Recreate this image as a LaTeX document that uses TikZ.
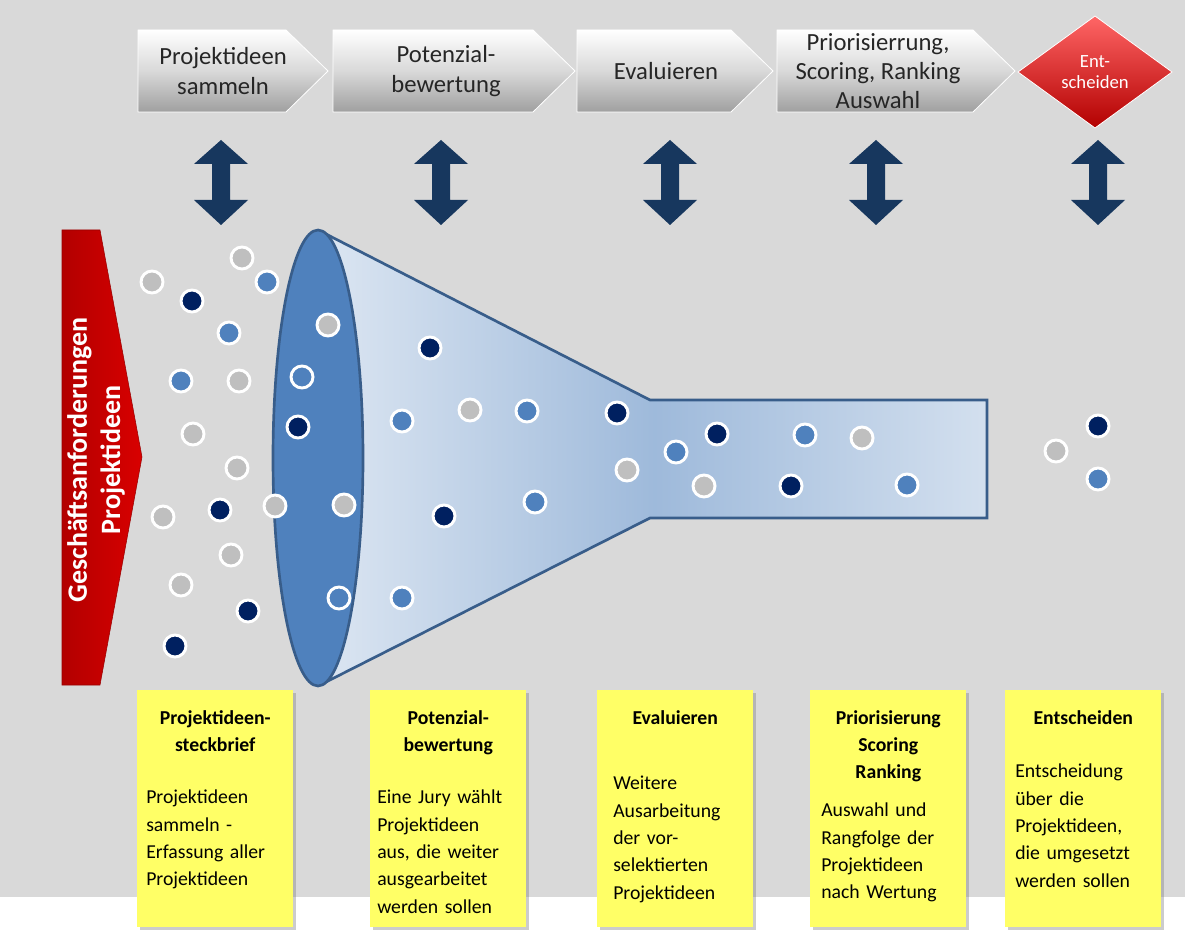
\documentclass[tikz,border=0pt]{standalone}
\usepackage{fontspec}
\setmainfont{Carlito}
\usetikzlibrary{shapes.geometric,shadows}
\definecolor{bg}{HTML}{D9D9D9}
\definecolor{navy}{HTML}{002060}
\definecolor{dnavy}{HTML}{17375E}
\definecolor{mblue}{HTML}{4F81BD}
\definecolor{cgray}{HTML}{BFBFBF}
\definecolor{note}{HTML}{FFFF66}
\definecolor{edge}{HTML}{385D8A}
\begin{document}
\begin{tikzpicture}[x=0.75pt,y=-0.75pt,
 chev/.style={draw=white,line width=0.6pt,top color=white,bottom color=gray!75,middle color=gray!30},
 ctext/.style={font=\fontsize{18.5}{22}\selectfont,align=center,text=black!85},
 dot/.style={circle,draw=white,line width=2.2pt,minimum size=22pt*0.75,inner sep=0pt},
 g/.style={dot,fill=cgray}, n/.style={dot,fill=navy}, b/.style={dot,fill=mblue},
 sticky/.style={draw=none,fill=note,drop shadow={shadow xshift=2pt,shadow yshift=-2pt,opacity=0.4}},
 ntext/.style={font=\fontsize{14.8}{20.5}\selectfont,align=left,anchor=north west,inner sep=0pt,text width=150*0.75pt},
 nhead/.style={ntext,font=\bfseries\fontsize{14.8}{20.5}\selectfont,align=center},
 dbl/.style={fill=dnavy}]
\useasboundingbox (0,0) rectangle (1185,941);
\fill[bg] (0,0) rectangle (1185,897);
% chevrons
\foreach \a/\bb in {138/328,333/575,577/773,777/1015}{
 \path[chev] (\a,30) -- (\bb-42,30) -- (\bb,71) -- (\bb-42,112) -- (\a,112) -- cycle;
}
\node[ctext] (t1) at (223,71) {Projektideen\\sammeln};
\node[ctext] (t2) at (446,71) {Potenzial-\\bewertung};
\node[ctext] (t3) at (666,71) {Evaluieren};
\node[ctext] (t4) at (878,71) {Priorisierrung,\\Scoring, Ranking\\Auswahl};
\path[draw=white,line width=0.6pt,top color=red!60,bottom color=red!70!black] (1018,72)--(1095,16)--(1172,72)--(1095,128)--cycle;
\node[font=\fontsize{14}{16}\selectfont,text=white,align=center] (t5) at (1095,72) {Ent-\\scheiden};
% double arrows
\foreach \x in {221,441,670,876,1098}{
 \fill[dbl] (\x,140) -- (\x+27,164) -- (\x+9,164) -- (\x+9,200) -- (\x+27,200) -- (\x,225) -- (\x-27,200) -- (\x-9,200) -- (\x-9,164) -- (\x-27,164) -- cycle;
}
% red arrow
\path[left color=red!70!black,right color=red!85!black,draw=red!60!black] (62,230) -- (100,230) -- (142,457) -- (100,685) -- (62,685) -- cycle;
\node[rotate=90,text=white,font=\bfseries\fontsize{21}{25}\selectfont,align=center] (ga) at (96,460) {Geschäftsanforderungen\\Projektideen};
% funnel
\path[left color=white!80!mblue,right color=mblue!25,middle color=mblue!55,draw=edge,line width=2pt] (322,232) -- (650,400) -- (987,400) -- (987,518) -- (650,518) -- (322,684) -- cycle;
\path[fill=mblue,draw=edge,line width=2pt] (318,458) ellipse [x radius=45,y radius=228];
% dots
\foreach \x/\y in {152/282,242/258,239/381,193/434,237/468,163/517,275/506,231/555,181/585,328/325,344/505,470/410,627/470,704/486,862/438,1056/451}{\node[g] at (\x,\y) {};}
\foreach \x/\y in {192/301,220/510,248/611,175/646,298/427,430/348,444/516,617/413,717/434,791/486,1098/426}{\node[n] at (\x,\y) {};}
\foreach \x/\y in {267/282,229/333,181/381,302/377,339/598,402/421,527/411,535/502,402/598,676/452,805/435,907/485,1098/479}{\node[b] at (\x,\y) {};}
% notes
\foreach \a in {137,370,597,810,1005}{\path[sticky] (\a,690) rectangle (\a+156,927);}
\node[nhead] (h1) at (140,710) {Projektideen-\\steckbrief};
\node[ntext] (b1) at (146,790) {Projektideen\\sammeln -\\Erfassung aller\\Projektideen};
\node[nhead] (h2) at (373,710) {Potenzial-\\bewertung};
\node[ntext] (b2) at (377,790) {Eine Jury wählt\\Projektideen\\aus, die weiter\\ausgearbeitet\\werden sollen};
\node[nhead] (h3) at (600,710) {Evaluieren};
\node[ntext] (b3) at (613,776) {Weitere\\Ausarbeitung\\der vor-\\selektierten\\Projektideen};
\node[nhead] (h4) at (813,710) {Priorisierung\\Scoring\\Ranking};
\node[ntext] (b4) at (821,803) {Auswahl und\\Rangfolge der\\Projektideen\\nach Wertung};
\node[nhead] (h5) at (1008,710) {Entscheiden};
\node[ntext] (b5) at (1015,764) {Entscheidung\\über die\\Projektideen,\\die umgesetzt\\werden sollen};
\end{tikzpicture}
\end{document}
